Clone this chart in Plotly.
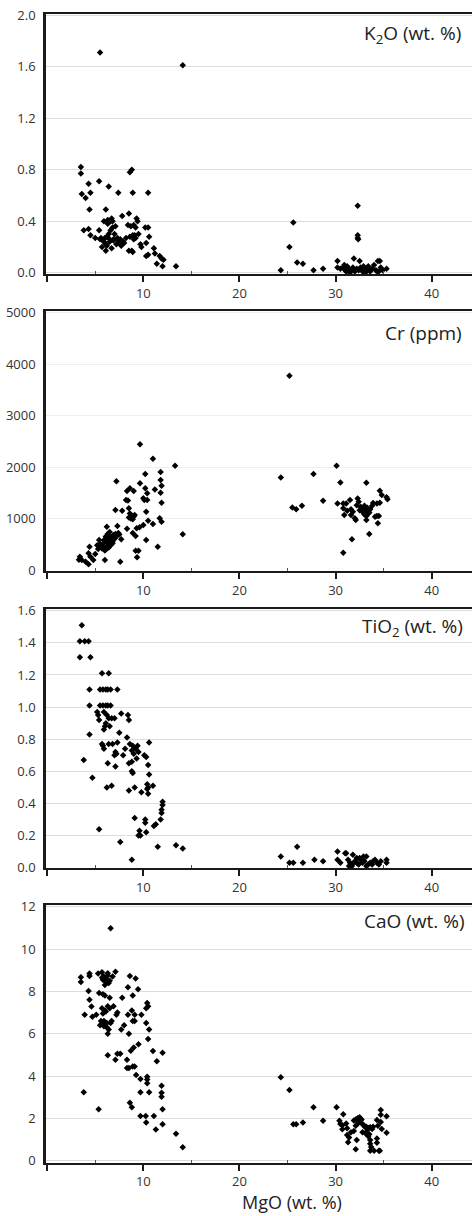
import plotly.graph_objects as go

# ---------------- data ----------------
# Panel 1: K2O (wt. %) vs MgO (wt. %)
k2o_mgo = [5.5, 14.1, 3.5, 3.5, 8.6, 8.8, 4.3, 5.4, 6.4, 3.6, 4.0, 4.5, 7.4, 8.9, 10.5,
           4.4, 6.1, 3.8, 4.3, 5.4, 5.9, 6.3, 6.7, 6.8, 7.8, 8.5, 9.3, 9.4, 9.0, 9.2,
           8.4, 8.7, 7.1, 10.2, 10.5, 4.5, 5.0, 5.5, 5.8, 6.0, 6.2, 6.4, 6.6, 6.8, 6.3,
           6.6, 5.9, 6.1, 6.5, 6.9, 7.2, 7.5, 7.7, 7.3, 7.0, 8.2, 8.9, 9.1, 9.0, 10.6,
           10.3, 9.8, 9.2, 8.5, 8.8, 8.9, 6.1, 5.7, 6.7, 11.1, 10.3, 10.5, 11.2, 11.7, 11.9,
           12.1, 11.4, 12.0, 13.4, 7.6, 8.0, 9.7, 6.2, 6.9, 7.4, 5.6, 6.5, 7.9, 8.6, 9.5,
           24.3, 25.2, 25.6, 26.0, 26.6, 27.7, 28.7, 30.2, 30.2, 32.3, 32.3, 32.35, 32.3, 31.9, 32.5,
           34.4, 34.6, 35.3, 30.5, 30.8, 31.0, 31.2, 31.4, 31.6, 31.8, 32.0, 32.2, 32.4, 32.6,
           32.8, 33.0, 33.2, 33.4, 33.6, 33.8, 34.0, 34.2, 34.5, 34.7, 34.9, 33.1, 31.5, 30.9, 32.9,
           33.5, 34.3, 31.1, 32.7]
k2o = [1.71, 1.61, 0.82, 0.77, 0.78, 0.80, 0.69, 0.71, 0.67, 0.61, 0.58, 0.62, 0.62, 0.62, 0.62,
       0.49, 0.49, 0.33, 0.34, 0.33, 0.40, 0.41, 0.42, 0.40, 0.44, 0.46, 0.42, 0.40, 0.37, 0.35,
       0.37, 0.36, 0.36, 0.35, 0.35, 0.29, 0.27, 0.26, 0.25, 0.27, 0.28, 0.30, 0.33, 0.35, 0.38,
       0.40, 0.24, 0.22, 0.24, 0.25, 0.22, 0.23, 0.21, 0.27, 0.30, 0.27, 0.29, 0.29, 0.26, 0.28,
       0.23, 0.20, 0.27, 0.17, 0.17, 0.16, 0.17, 0.20, 0.19, 0.19, 0.13, 0.14, 0.15, 0.13, 0.11,
       0.10, 0.07, 0.05, 0.05, 0.26, 0.23, 0.22, 0.21, 0.26, 0.25, 0.27, 0.26, 0.24, 0.28, 0.30,
       0.02, 0.20, 0.39, 0.08, 0.07, 0.02, 0.03, 0.09, 0.04, 0.52, 0.29, 0.26, 0.27, 0.11, 0.09,
       0.09, 0.09, 0.03, 0.03, 0.04, 0.02, 0.05, 0.03, 0.02, 0.04, 0.01, 0.03, 0.02, 0.04,
       0.01, 0.03, 0.02, 0.05, 0.01, 0.03, 0.06, 0.02, 0.01, 0.04, 0.02, 0.00, 0.00, 0.06, 0.05,
       0.02, 0.01, 0.01, 0.03]

# Panel 2: Cr (ppm) vs MgO (wt. %)
cr_mgo = [9.65, 11.0, 13.3, 11.8, 11.8, 11.9, 11.8, 10.2, 7.2, 9.65, 10.2, 8.6, 9.0, 8.3, 10.4,
          11.2, 10.0, 10.1, 10.4, 8.2, 8.4, 11.9, 7.1, 7.8, 8.5, 8.6, 8.8, 9.0, 8.7, 8.9,
          8.5, 9.1, 10.3, 11.7, 11.9, 10.5, 10.0, 11.0, 9.3, 9.6, 8.3, 8.9, 9.2, 10.3, 14.1,
          11.5, 9.2, 9.5, 9.35, 7.6, 6.0, 4.4, 4.3, 4.5, 4.8, 3.4, 3.6, 4.0, 4.3, 3.3,
          5.4, 6.2, 7.3, 5.2, 5.5, 5.7, 5.9, 6.1, 6.3, 6.5, 6.7, 6.9, 7.1, 7.4, 5.6,
          5.8, 6.0, 6.2, 6.4, 6.6, 6.8, 7.0, 7.5, 5.9, 6.1, 6.3, 6.5, 6.7, 6.9, 6.0,
          6.2, 6.4, 5.3, 6.6, 7.2, 5.0, 6.8, 7.7,
          25.2, 24.3, 27.7, 30.1, 30.5, 33.2, 34.6, 34.8, 35.3, 35.4, 28.7, 25.5, 25.9, 26.5, 30.2,
          30.8, 31.1, 31.5, 32.3, 32.4, 30.8, 31.2, 31.6, 32.2, 32.6, 32.9, 33.1, 33.3, 33.5, 33.6,
          33.8, 33.4, 33.0, 33.2, 32.8, 32.5, 34.3, 34.6, 30.9, 31.6, 31.8, 32.0, 32.1, 33.2, 34.1,
          34.3, 34.4, 33.5, 31.7, 30.8, 33.0, 32.7, 33.9, 34.5]
cr = [2442, 2163, 2027, 1904, 1749, 1639, 1500, 1865, 1723, 1684, 1587, 1587, 1535, 1535, 1490,
      1567, 1393, 1360, 1360, 1360, 1350, 1308, 1166, 1153, 1200, 1100, 1060, 1040, 1000, 985,
      1020, 1070, 1134, 1004, 939, 959, 875, 895, 810, 830, 800, 720, 661, 583, 693,
      453, 376, 376, 246, 162, 194, 453, 324, 259, 194, 259, 194, 162, 110, 200,
      583, 842, 855, 480, 500, 420, 530, 610, 560, 640, 590, 680, 700, 720, 450,
      470, 400, 460, 520, 480, 560, 610, 690, 580, 650, 700, 740, 620, 660, 380,
      420, 440, 410, 500, 650, 310, 520, 600,
      3776, 1800, 1865, 2027, 1703, 1697, 1541, 1457, 1412, 1373, 1347, 1217, 1179, 1250, 1295,
      1295, 1295, 1360, 1392, 1328, 1198, 1153, 1179, 1260, 1230, 1190, 1150, 1210, 1120, 1180,
      1250, 1100, 1080, 1050, 1130, 1160, 1295, 1308, 1069, 1069, 1134, 1004, 972, 972, 1036,
      1050, 907, 700, 596, 337, 1250, 1200, 1300, 1050]

# Panel 3: TiO2 (wt. %) vs MgO (wt. %)
ti_mgo = [3.6, 3.4, 3.9, 4.3, 3.4, 4.5, 5.7, 6.4, 4.4, 5.5, 5.8, 6.1, 6.3, 6.6, 7.3,
          4.4, 5.5, 5.8, 6.1, 6.3, 6.6, 5.2, 5.3, 5.4, 5.9, 6.2, 6.4, 6.7, 6.0, 6.5,
          7.0, 5.9, 6.1, 7.7, 8.4, 8.5, 4.4, 7.5, 8.3, 5.7, 5.9, 5.8, 6.4, 6.8, 7.3,
          10.6, 8.6, 8.9, 9.2, 9.4, 9.5, 9.0, 8.8, 8.1, 7.9, 7.1, 7.2, 10.1, 10.3, 3.8,
          6.3, 8.5, 8.8, 10.5, 7.1, 8.8, 8.9, 10.6, 4.7, 10.4, 10.5, 10.5, 11.0, 6.2, 6.7,
          9.1, 8.5, 9.8, 10.4, 12.0, 12.0, 11.9, 11.9, 11.8, 9.1, 10.2, 10.2, 9.6, 9.5, 9.7,
          10.3, 11.3, 11.1, 5.4, 7.6, 11.5, 13.4, 14.1, 8.8, 7.0, 9.3,
          24.3, 25.2, 25.6, 26.0, 26.6, 27.8, 28.7, 30.2, 30.2, 30.5, 31.0, 31.1, 31.8, 31.3, 31.5,
          31.7, 32.0, 32.2, 32.4, 32.6, 32.8, 33.0, 33.2, 33.4, 33.6, 33.9, 34.3, 34.5, 34.7, 35.3,
          35.3, 32.9, 33.2, 31.4, 31.7, 32.2, 33.8, 34.1, 32.5]
tio2 = [1.51, 1.41, 1.41, 1.41, 1.31, 1.31, 1.21, 1.21, 1.11, 1.11, 1.11, 1.11, 1.11, 1.11, 1.11,
        1.01, 1.01, 1.01, 1.01, 1.01, 1.01, 0.97, 0.95, 0.92, 0.97, 0.95, 0.93, 0.93, 0.88, 0.88,
        0.93, 0.86, 0.90, 0.96, 0.95, 0.92, 0.83, 0.84, 0.81, 0.77, 0.74, 0.76, 0.77, 0.77, 0.78,
        0.78, 0.77, 0.76, 0.74, 0.76, 0.72, 0.71, 0.73, 0.74, 0.70, 0.72, 0.71, 0.70, 0.69, 0.67,
        0.65, 0.65, 0.66, 0.64, 0.63, 0.60, 0.59, 0.58, 0.56, 0.52, 0.50, 0.46, 0.51, 0.50, 0.51,
        0.50, 0.48, 0.47, 0.49, 0.41, 0.39, 0.36, 0.34, 0.30, 0.31, 0.30, 0.28, 0.23, 0.20, 0.20,
        0.22, 0.27, 0.26, 0.24, 0.16, 0.13, 0.14, 0.12, 0.05, 0.70, 0.68,
        0.07, 0.03, 0.03, 0.13, 0.03, 0.05, 0.04, 0.10, 0.05, 0.03, 0.09, 0.09, 0.08, 0.05, 0.03,
        0.02, 0.04, 0.06, 0.02, 0.05, 0.03, 0.04, 0.07, 0.02, 0.03, 0.04, 0.03, 0.02, 0.04, 0.05,
        0.03, 0.07, 0.01, 0.01, 0.01, 0.03, 0.02, 0.05, 0.06]

# Panel 4: CaO (wt. %) vs MgO (wt. %)
ca_mgo = [6.6, 3.5, 3.5, 4.4, 4.4, 5.3, 5.7, 5.9, 6.1, 6.3, 6.5, 6.4, 6.0, 5.8, 5.7,
          6.1, 6.3, 6.8, 7.1, 8.6, 9.2, 8.4, 9.45, 4.3, 5.4, 5.8, 6.0, 4.4, 6.5, 7.8,
          8.9, 4.6, 5.7, 6.0, 6.3, 6.5, 6.9, 10.4, 10.5, 10.3, 8.8, 9.1, 3.9, 4.7, 5.1,
          5.8, 6.1, 7.2, 7.3, 8.4, 9.8, 5.6, 5.9, 6.7, 8.9, 9.1, 5.5, 5.9, 6.2, 6.4,
          7.7, 8.0, 10.3, 10.6, 6.3, 8.5, 10.5, 9.5, 9.0, 11.0, 12.0, 6.3, 7.3, 7.6, 8.7,
          7.1, 8.3, 11.4, 8.9, 9.1, 8.3, 8.5, 9.25, 10.4, 10.4, 10.4, 9.7, 11.9, 11.9, 11.9,
          3.8, 9.7, 10.6, 8.6, 8.8, 5.35, 12.0, 9.7, 10.25, 11.1, 10.3, 12.0, 11.3, 13.4, 14.1,
          6.2, 6.6, 5.9,
          24.3, 25.2, 25.6, 25.9, 26.6, 27.7, 28.7, 30.1, 30.8, 30.4, 30.5, 30.7, 30.7, 31.1, 31.2,
          31.2, 31.4, 31.3, 32.2, 32.1, 31.9, 32.1, 32.3, 32.5, 32.7, 32.4, 32.3, 32.1, 32.6, 32.9,
          33.0, 33.2, 33.4, 33.6, 33.8, 33.3, 33.1, 33.5, 31.6, 31.9, 32.8, 33.4, 33.9, 33.6, 33.6,
          33.7, 33.6, 34.0, 34.5, 34.6, 34.3, 34.3, 34.7, 34.7, 34.7, 34.8, 35.3, 35.3, 34.3, 34.4]
cao = [10.98, 8.67, 8.44, 8.84, 8.72, 8.84, 8.9, 8.7, 8.6, 8.75, 8.5, 8.4, 8.3, 8.55, 8.65,
       8.45, 8.85, 8.7, 8.93, 8.72, 8.61, 8.2, 8.1, 8.02, 7.92, 7.86, 7.8, 7.6, 7.7, 7.7,
       7.8, 7.29, 7.2, 7.1, 7.3, 7.2, 7.3, 7.45, 7.3, 7.2, 7.1, 6.9, 6.9, 6.8, 6.9,
       6.95, 7.05, 6.9, 7.0, 6.9, 6.9, 6.6, 6.6, 6.6, 6.6, 6.6, 6.4, 6.35, 6.3, 6.2,
       6.2, 6.4, 6.5, 6.2, 6.0, 6.0, 5.75, 5.5, 5.35, 5.18, 5.1, 4.98, 5.05, 5.05, 5.2,
       4.77, 4.77, 4.7, 4.45, 4.45, 4.38, 4.38, 4.05, 3.97, 3.84, 3.66, 3.86, 3.54, 3.21, 3.02,
       3.23, 3.23, 3.23, 2.74, 2.52, 2.43, 2.43, 2.11, 2.11, 2.11, 1.8, 1.72, 1.48, 1.27, 0.64,
       6.5, 6.5, 6.45,
       3.94, 3.34, 1.72, 1.72, 1.81, 2.52, 1.89, 2.52, 2.2, 1.89, 1.73, 1.68, 1.49, 1.76, 1.53,
       1.21, 1.10, 0.87, 0.98, 0.54, 1.9, 1.95, 2.0, 2.05, 1.95, 1.85, 1.75, 1.65, 1.8, 1.7,
       1.62, 1.6, 1.55, 1.58, 1.5, 1.45, 1.3, 1.25, 1.35, 1.4, 1.35, 1.15, 1.6, 0.98, 0.8,
       0.65, 0.47, 0.47, 0.47, 0.47, 0.85, 1.05, 2.40, 2.17, 1.83, 1.5, 2.1, 1.32, 1.92, 1.65]

panel_titles = ["K<sub>2</sub>O (wt. %)", "Cr (ppm)", "TiO<sub>2</sub> (wt. %)", "CaO (wt. %)"]
x_title = "MgO (wt. %)"
x_tick_vals = [0, 10, 20, 30, 40]
x_tick_text = ["", "10", "20", "30", "40"]

# ---------------- layout ----------------
W, H = 472, 1216
FONT = "Open Sans"

def py(px):
    return 1 - px / H

panels = [(k2o_mgo, k2o), (cr_mgo, cr), (ti_mgo, tio2), (ca_mgo, cao)]
ydomains = [[py(274), py(14)], [py(571), py(310.7)], [py(868), py(609.3)], [py(1162.7), py(905)]]
yranges = [[-0.01, 2.008], [-19, 5039], [-0.002, 1.609], [-0.094, 12.08]]
ydticks = [0.4, 1000, 0.2, 2]
yfmts = [".1f", "d", ".1f", "d"]
gridcols = ["#dcdcdc", "#eeeeee", "#dcdcdc", "#dcdcdc"]
title_pos = [(463, 34), (464, 332.7), (465, 626.7), (466.5, 921)]

fig = go.Figure()
layout = dict(
    width=W, height=H,
    margin=dict(l=0, r=0, t=0, b=0),
    paper_bgcolor="white", plot_bgcolor="white",
    showlegend=False,
    font=dict(family=FONT, size=13, color="#333333"),
    annotations=[],
)

x0, x1 = 46, 472
ppu = 9.613
xrange = [(x0 - 47.2) / ppu, (x1 - 47.2) / ppu]

for i, (xs, ys) in enumerate(panels):
    n = "" if i == 0 else str(i + 1)
    fig.add_trace(go.Scatter(
        x=xs, y=ys, mode="markers",
        marker=dict(symbol="diamond", size=5, color="black", line=dict(width=0)),
        xaxis="x" + n, yaxis="y" + n, hoverinfo="skip",
    ))
    layout["xaxis" + n] = dict(
        domain=[x0 / W, 1], range=xrange, anchor="y" + n,
        showline=True, linecolor="#1a1a1a", linewidth=2, mirror=True,
        showgrid=False, zeroline=False,
        tickmode="array", tickvals=x_tick_vals, ticktext=x_tick_text,
        ticks="outside", ticklen=6, tickwidth=1.5, tickcolor="#1a1a1a",
        tickfont=dict(family=FONT, size=13, color="#333333"),
        minor=dict(ticks="inside", ticklen=3, tickwidth=1, tickcolor="#555555",
                   tickmode="array", tickvals=[5, 15, 25, 35]),
        automargin=False, fixedrange=True,
    )
    layout["yaxis" + n] = dict(
        domain=ydomains[i], range=yranges[i], anchor="x" + n,
        showline=True, linecolor="#1a1a1a", linewidth=2.5, mirror=False,
        showgrid=True, gridcolor=gridcols[i], gridwidth=1, zeroline=False,
        tickmode="linear", tick0=0, dtick=ydticks[i], tickformat=yfmts[i],
        ticks="outside", ticklen=5, tickcolor="rgba(0,0,0,0)",
        tickfont=dict(family=FONT, size=13, color="#333333"),
        automargin=False, fixedrange=True,
    )
    tx, ty = title_pos[i]
    layout["annotations"].append(dict(
        text=panel_titles[i], xref="paper", yref="paper",
        x=tx / W, y=py(ty), xanchor="right", yanchor="middle", showarrow=False,
        font=dict(family=FONT, size=19, color="#222222"),
    ))

layout["annotations"].append(dict(
    text=x_title, xref="paper", yref="paper",
    x=292 / W, y=py(1202), xanchor="center", yanchor="middle", showarrow=False,
    font=dict(family=FONT, size=18, color="#222222"),
))

fig.update_layout(**layout)
fig.write_html("out.html")
